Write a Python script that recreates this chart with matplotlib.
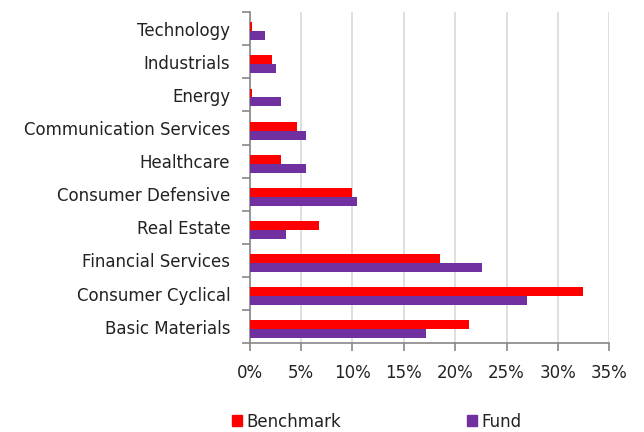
import numpy as np
import matplotlib
matplotlib.use("Agg")
import matplotlib.pyplot as plt
from matplotlib.patches import Patch
from matplotlib.ticker import PercentFormatter

# data, bottom to top
sectors = ["Basic Materials", "Consumer Cyclical", "Financial Services", "Real Estate",
           "Consumer Defensive", "Healthcare", "Communication Services", "Energy",
           "Industrials", "Technology"]
benchmark = [21.3, 32.4, 18.5, 6.7, 10.0, 3.0, 4.6, 0.2, 2.2, 0.2]
fund = [17.2, 27.0, 22.6, 3.5, 10.4, 5.5, 5.5, 3.0, 2.6, 1.5]

red = "#FF0000"
purple = "#7030A0"
txt = "#222222"

plt.rcParams['font.family'] = ['DejaVu Sans']

fig = plt.figure(figsize=(6.44, 4.32), dpi=100)
ax = fig.add_axes([0.3877, 0.2053, 0.5584, 0.7669])

y = np.arange(len(sectors))
h = 0.27
ax.barh(y + h / 2 - 0.08, benchmark, height=h, color=red, zorder=3)
ax.barh(y - h / 2 - 0.08, fund, height=h, color=purple, zorder=3)

ax.set_xlim(0, 35)
ax.set_ylim(-0.5, len(sectors) - 0.5)
ax.set_xticks(np.arange(0, 36, 5))
ax.xaxis.set_major_formatter(PercentFormatter(decimals=0))
ax.grid(axis="x", color="#d9d9d9", linewidth=1.2, zorder=0)

ax.set_yticks(y)
ax.set_yticklabels(sectors)
ax.set_yticks(np.arange(-0.5, len(sectors), 1), minor=True)
ax.tick_params(axis="y", which="major", length=0, pad=14, labelsize=12, labelcolor=txt)
ax.tick_params(axis="y", which="minor", length=6, color="#888888", width=1.2)
ax.tick_params(axis="x", length=6, color="#888888", width=1.2, pad=9, labelsize=12, labelcolor=txt)

for s in ["top", "right"]:
    ax.spines[s].set_visible(False)
for s in ["left", "bottom"]:
    ax.spines[s].set_color("#888888")
    ax.spines[s].set_linewidth(1.2)

handles = [Patch(color=red, label="Benchmark"), Patch(color=purple, label="Fund")]
fig.legend(handles=handles, loc="center", bbox_to_anchor=(0.585, 0.024), ncol=2,
           frameon=False, fontsize=12, handlelength=0.6, handleheight=0.6,
           handletextpad=0.3, columnspacing=7.5, labelcolor=txt)

fig.savefig("out.png", dpi=100)
